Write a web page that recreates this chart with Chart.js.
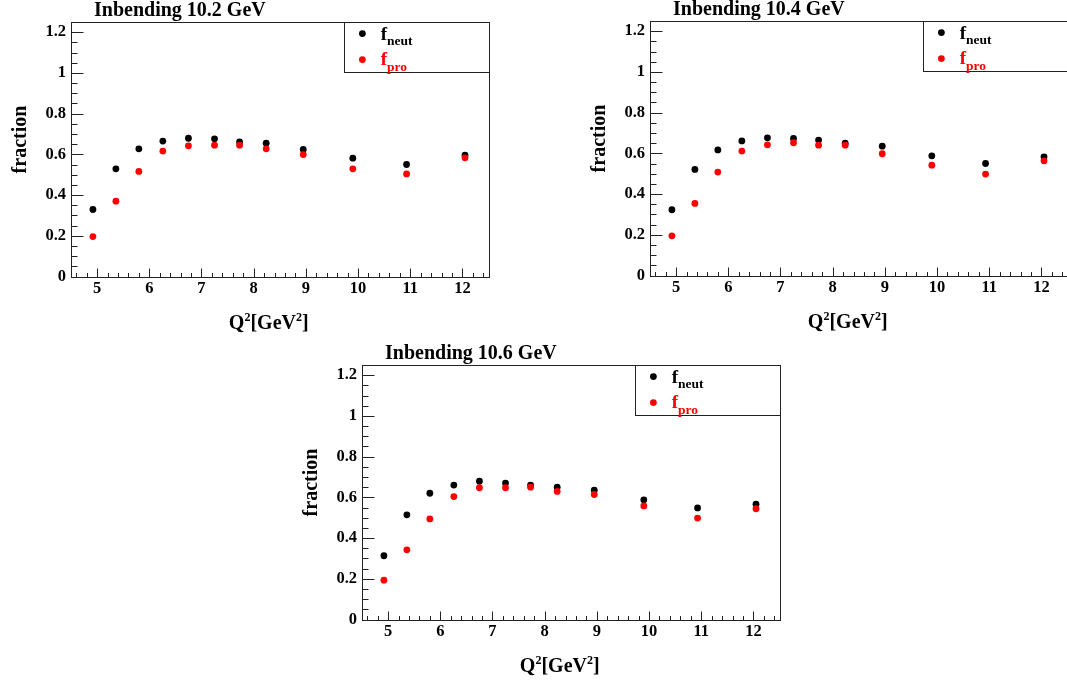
<!DOCTYPE html>
<html>
<head>
<meta charset="utf-8">
<title>Inbending fractions</title>
<script src="https://cdn.jsdelivr.net/npm/chart.js@4.4.1/dist/chart.umd.min.js"></script>
<style>
  html, body { margin: 0; padding: 0; background: #fff; }
  body { position: relative; width: 1067px; height: 685px; overflow: hidden; }
  .panel { position: absolute; width: 502px; height: 340px; }
</style>
</head>
<body>
<div class="panel" style="left:-1px; top:1px"><canvas id="c102" width="502" height="340"></canvas></div>
<div class="panel" style="left:578px; top:0px"><canvas id="c104" width="502" height="340"></canvas></div>
<div class="panel" style="left:290px; top:344px"><canvas id="c106" width="502" height="340"></canvas></div>

<script>
// Q^2 bin centres (same binning for every beam energy)
const q2 = [4.92, 5.36, 5.80, 6.26, 6.75, 7.25, 7.73, 8.24, 8.95, 9.90, 10.93, 12.05];

// 10.2 GeV
const neut102 = [0.329, 0.529, 0.627, 0.665, 0.679, 0.676, 0.661, 0.655, 0.624, 0.581, 0.550, 0.596];
const pro102  = [0.196, 0.370, 0.516, 0.616, 0.642, 0.645, 0.645, 0.627, 0.599, 0.529, 0.504, 0.583];
// 10.4 GeV
const neut104 = [0.323, 0.521, 0.617, 0.661, 0.676, 0.673, 0.665, 0.650, 0.635, 0.588, 0.550, 0.583];
const pro104  = [0.195, 0.354, 0.508, 0.611, 0.642, 0.652, 0.640, 0.640, 0.598, 0.542, 0.498, 0.563];
// 10.6 GeV
const neut106 = [0.313, 0.514, 0.620, 0.660, 0.679, 0.670, 0.660, 0.650, 0.635, 0.588, 0.548, 0.566];
const pro106  = [0.193, 0.342, 0.494, 0.604, 0.647, 0.647, 0.650, 0.629, 0.614, 0.558, 0.498, 0.544];

const xTicks = [5, 6, 7, 8, 9, 10, 11, 12];
const yTicks = [0, 0.2, 0.4, 0.6, 0.8, 1, 1.2];
const yTickLabels = ['0', '0.2', '0.4', '0.6', '0.8', '1', '1.2'];

const SERIF = '"Liberation Serif", "Times New Roman", serif';
const INK = '#222';

// draws a run of text pieces (for sub/superscripts), returns total width
function drawRich(ctx, pieces, x, y, measureOnly) {
  let w = 0;
  pieces.forEach(p => {
    ctx.font = `bold ${p.size}px ${SERIF}`;
    if (!measureOnly) ctx.fillText(p.t, x + w, y + (p.dy || 0));
    w += ctx.measureText(p.t).width;
  });
  return w;
}

// ROOT-style frame: box, inward ticks, title, axis titles, legend
const rootFrame = {
  id: 'rootFrame',
  beforeDatasetsDraw(chart) {
    const ctx = chart.ctx, a = chart.chartArea;
    const xs = chart.scales.x, ys = chart.scales.y;
    ctx.save();
    ctx.strokeStyle = INK;
    ctx.lineWidth = 1;
    ctx.strokeRect(Math.round(a.left) + 0.5, Math.round(a.top) + 0.5,
                   Math.round(a.right - a.left), Math.round(a.bottom - a.top));
    ctx.beginPath();
    const lx = Math.round(a.left) + 0.5, by = Math.round(a.bottom) + 0.5;
    for (let k = 1; k <= 25; k++) {
      const py = Math.round(ys.getPixelForValue(k * 0.05)) + 0.5;
      const len = k % 4 === 0 ? 12 : 6;
      ctx.moveTo(lx, py); ctx.lineTo(lx + len, py);
    }
    for (let k = 23; k <= 62; k++) {
      const px = Math.round(xs.getPixelForValue(k * 0.2)) + 0.5;
      const len = k % 5 === 0 ? 9 : 4.5;
      ctx.moveTo(px, by); ctx.lineTo(px, by - len);
    }
    ctx.stroke();
    ctx.restore();
  },
  afterDraw(chart, args, opts) {
    const ctx = chart.ctx, a = chart.chartArea;
    ctx.save();
    ctx.fillStyle = '#000';
    ctx.textBaseline = 'alphabetic';
    ctx.textAlign = 'left';

    // title
    ctx.font = `bold 20px ${SERIF}`;
    ctx.fillText(opts.title, a.left + 23, a.top - 6);

    // y title
    ctx.save();
    ctx.translate(a.left - 45.5, a.top + 117.5);
    ctx.rotate(-Math.PI / 2);
    ctx.textAlign = 'center';
    ctx.font = `bold 20px ${SERIF}`;
    ctx.fillText('fraction', 0, 0);
    ctx.restore();

    // x title Q^2[GeV^2]
    const xt = [
      { t: 'Q', size: 20 }, { t: '2', size: 12, dy: -8 },
      { t: '[GeV', size: 20 }, { t: '2', size: 12, dy: -8 }, { t: ']', size: 20 }
    ];
    const xw = drawRich(ctx, xt, 0, 0, true);
    drawRich(ctx, xt, (a.left + a.right) / 2 - 11 - xw / 2, a.bottom + 52);

    // legend box
    const L = Math.round(a.right - 145), T = Math.round(a.top);
    ctx.strokeStyle = INK;
    ctx.lineWidth = 1;
    ctx.strokeRect(L + 0.5, T + 0.5, Math.round(a.right) - L, 50);
    const ds = chart.data.datasets;
    const rows = [
      { ds: ds[0], sub: 'neut', my: 11.6, ty: 17.6 },
      { ds: ds[1], sub: 'pro', my: 37.6, ty: 43.3 }
    ];
    rows.forEach(r => {
      ctx.fillStyle = r.ds.backgroundColor;
      ctx.beginPath();
      ctx.arc(L + 18.4, T + r.my, 3.4, 0, Math.PI * 2);
      ctx.fill();
      drawRich(ctx, [{ t: 'f', size: 19 }, { t: r.sub, size: 13.5, dy: 5.5 }], L + 36.7, T + r.ty);
    });
    ctx.restore();
  }
};

function makePanel(id, title, neut, pro) {
  const pts = arr => arr.map((v, i) => ({ x: q2[i], y: v }));
  return new Chart(document.getElementById(id), {
    type: 'scatter',
    data: {
      datasets: [
        { label: 'f_neut', data: pts(neut), backgroundColor: '#000000', borderWidth: 0, pointRadius: 3.4, order: 1 },
        { label: 'f_pro', data: pts(pro), backgroundColor: '#ff0000', borderWidth: 0, pointRadius: 3.4, order: 0 }
      ]
    },
    options: {
      responsive: false,
      animation: false,
      layout: { padding: { top: 21, right: 12.5, left: 0, bottom: 0 } },
      plugins: {
        legend: { display: false },
        tooltip: { enabled: false },
        rootFrame: { title }
      },
      scales: {
        x: {
          type: 'linear', min: 4.5, max: 12.5,
          grid: { display: false, drawTicks: false },
          border: { display: false },
          afterBuildTicks: s => { s.ticks = xTicks.map(v => ({ value: v })); },
          afterFit: s => { s.height = 64.5; },
          ticks: {
            autoSkip: false, maxRotation: 0, padding: 2, color: '#000',
            font: { family: SERIF, size: 16.5, weight: 'bold' },
            callback: v => String(v)
          }
        },
        y: {
          type: 'linear', min: 0, max: 1.25,
          grid: { display: false, drawTicks: false },
          border: { display: false },
          afterBuildTicks: s => { s.ticks = yTicks.map(v => ({ value: v })); },
          afterFit: s => { s.width = 72; },
          ticks: {
            autoSkip: false, padding: 5, color: '#000',
            font: { family: SERIF, size: 16.5, weight: 'bold' },
            callback: (v, i) => yTickLabels[i]
          }
        }
      }
    },
    plugins: [rootFrame]
  });
}

makePanel('c102', 'Inbending 10.2 GeV', neut102, pro102);
makePanel('c104', 'Inbending 10.4 GeV', neut104, pro104);
makePanel('c106', 'Inbending 10.6 GeV', neut106, pro106);
</script>
</body>
</html>
